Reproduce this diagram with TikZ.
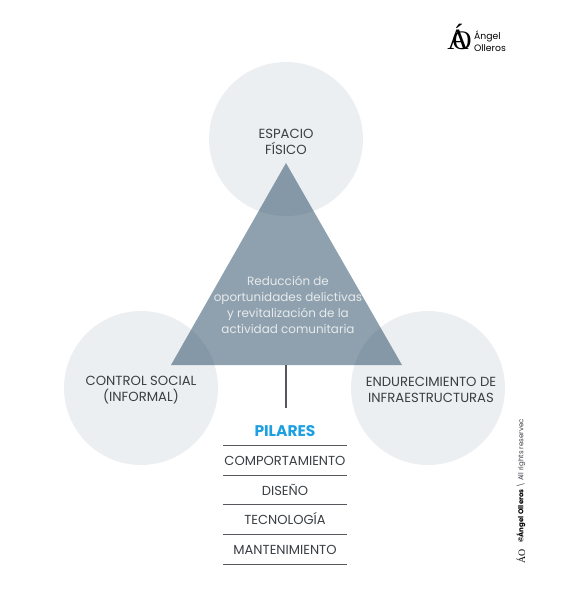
\documentclass[tikz,border=0pt]{standalone}
\usepackage{fontspec}
\setmainfont{Poppins}
\newfontfamily\marcafont{Liberation Serif}
\usetikzlibrary{positioning}
\definecolor{circulogris}{HTML}{ECEFF2}
\definecolor{triangulogris}{HTML}{1F435D}
\definecolor{textogris}{HTML}{3A3F44}
\definecolor{lineagris}{HTML}{55595D}
\definecolor{textoclaro}{HTML}{E6EAED}
\definecolor{azulpilares}{HTML}{1E9FE0}
\tikzset{
    circulo/.style={circle,fill=circulogris,minimum size=38.5mm,inner sep=0pt},
    etiqueta/.style={align=center,text=textogris,font=\fontsize{9.4}{11.4}\selectfont,inner sep=0pt},
    pilar/.style={text=textogris,font=\fontsize{9.3}{11}\selectfont,minimum width=30.75mm,minimum height=7.4mm,inner sep=0pt,text height=7.9pt,text depth=0pt},
    regla/.style={draw=lineagris,line width=0.6pt}
}
\begin{document}
\begin{tikzpicture}[x=0.25mm,y=-0.25mm]
        \useasboundingbox (0,0) rectangle (565,605);
        % Circulos
        \node[circulo] (fisico) at (286,139) {};
        \node[circulo] (control) at (141,388) {};
        \node[circulo] (endurecimiento) at (428,388) {};
        \node[etiqueta] (fisicotxt) at (286,142) {ESPACIO\\FÍSICO};
        \node[etiqueta] (controltxt) at (141,390) {CONTROL SOCIAL\\(INFORMAL)};
        \node[etiqueta] (endurecimientotxt) at (431,390) {ENDURECIMIENTO DE\\INFRAESTRUCTURAS};

        % Triangulo
        \coordinate (cima) at (286,163);
        \coordinate (derecha) at (402,365);
        \coordinate (izquierda) at (171,365);
        \fill[triangulogris,fill opacity=0.5] (cima) -- (derecha) -- (izquierda) -- cycle;
        \node[etiqueta,text=textoclaro,font=\fontsize{8.5}{11.4}\selectfont] (centro) at (288,305) {Reducción de\\oportunidades delictivas\\y revitalización de la\\actividad comunitaria};

        % Pilares
        \coordinate (base) at (286,365);
        \node[pilar,text=azulpilares,font=\fontsize{11}{11}\selectfont\bfseries] (pilares) at (285,430.5) {PILARES};
        \node[pilar] (comportamiento) at (285,460) {COMPORTAMIENTO};
        \node[pilar] (diseno) at (285,489.7) {DISEÑO};
        \node[pilar] (tecnologia) at (285,519.2) {TECNOLOGÍA};
        \node[pilar] (mantenimiento) at (285,549) {MANTENIMIENTO};
        \coordinate (tope) at (286,408);
        \draw[lineagris,line width=0.8pt] (base) -- (tope);
        \foreach \n in {pilares,comportamiento,diseno,tecnologia,mantenimiento}
            \draw[regla] (\n.south west) -- (\n.south east);

        % Marca
        \node[inner sep=0pt,font=\marcafont\fontsize{21}{21}\selectfont,text=black] (marcaA) at (458,37) {Á};
        \node[inner sep=0pt,font=\marcafont\fontsize{19}{19}\selectfont,text=black] (marcaO) at (462,41) {O};
        \node[inner sep=0pt,font=\fontsize{6.6}{8.6}\selectfont,align=left,text=black] (nombre) at (490,41) {Ángel\\Olleros};

        % Texto lateral
        \node[inner sep=0pt,font=\marcafont\fontsize{7}{7}\selectfont,text=black,rotate=90] (marcalateral) at (521,556) {ÁO};
        \node[inner sep=0pt,font=\fontsize{5}{6}\selectfont,text=textogris,rotate=90,anchor=west] (derechos) at (521,543) {{\bfseries\color{black}©Ángel Olleros} \textbackslash\ All rights reservec};
    \end{tikzpicture}
\end{document}
